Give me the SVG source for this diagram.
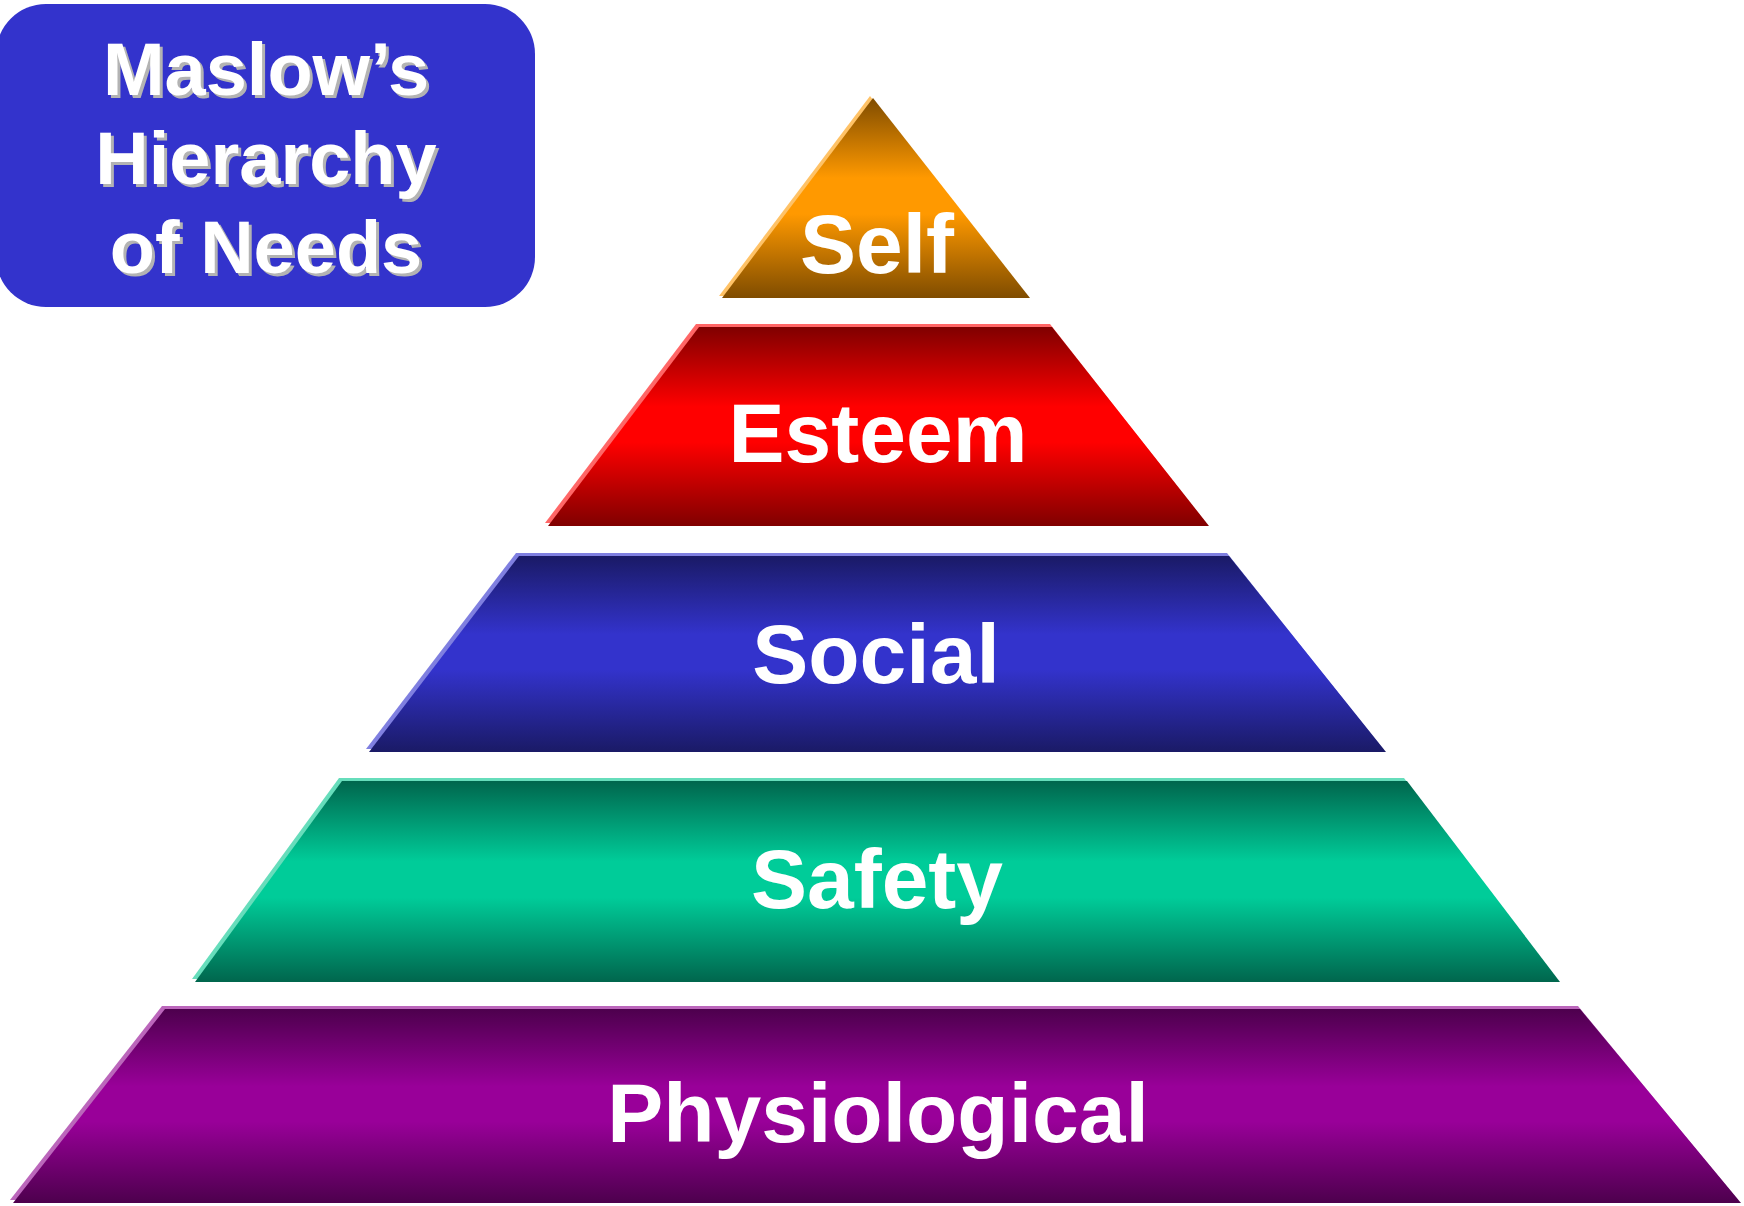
<svg xmlns="http://www.w3.org/2000/svg" width="1744" height="1206" viewBox="0 0 1744 1206">
<style>
.lbl{font-family:"Liberation Sans",Arial,sans-serif;font-weight:bold;font-size:84px;fill:#FFFFFF;text-anchor:middle}
.ttl{font-family:"Liberation Sans",Arial,sans-serif;font-weight:bold;font-size:74px;text-anchor:middle}
.ttl-s{fill:#B3B3B3}
.ttl-f{fill:#FFFFFF}
</style>
<defs>
<linearGradient id="gSelf" x1="0" y1="0" x2="0" y2="1">
<stop offset="0" stop-color="#7F4C00"/><stop offset="0.4" stop-color="#FF9900"/><stop offset="0.58" stop-color="#FF9900"/><stop offset="1" stop-color="#7F4C00"/>
</linearGradient>
<linearGradient id="gEsteem" x1="0" y1="0" x2="0" y2="1">
<stop offset="0" stop-color="#800000"/><stop offset="0.4" stop-color="#FF0000"/><stop offset="0.58" stop-color="#FF0000"/><stop offset="1" stop-color="#800000"/>
</linearGradient>
<linearGradient id="gSocial" x1="0" y1="0" x2="0" y2="1">
<stop offset="0" stop-color="#1A1A66"/><stop offset="0.4" stop-color="#3333CC"/><stop offset="0.58" stop-color="#3333CC"/><stop offset="1" stop-color="#1A1A66"/>
</linearGradient>
<linearGradient id="gSafety" x1="0" y1="0" x2="0" y2="1">
<stop offset="0" stop-color="#00664D"/><stop offset="0.4" stop-color="#00CC99"/><stop offset="0.58" stop-color="#00CC99"/><stop offset="1" stop-color="#00664D"/>
</linearGradient>
<linearGradient id="gPhys" x1="0" y1="0" x2="0" y2="1">
<stop offset="0" stop-color="#4D004D"/><stop offset="0.4" stop-color="#990099"/><stop offset="0.58" stop-color="#990099"/><stop offset="1" stop-color="#4D004D"/>
</linearGradient>
</defs>
<rect width="1744" height="1206" fill="#FFFFFF"/>

<g id="title">
<rect x="-4" y="4" width="539" height="303" rx="50" ry="50" fill="#3333CC"/>
<text class="ttl ttl-s" x="269" y="98">Maslow’s</text>
<text class="ttl ttl-s" x="269" y="187">Hierarchy</text>
<text class="ttl ttl-s" x="269" y="276">of Needs</text>
<text class="ttl ttl-f" x="266" y="95">Maslow’s</text>
<text class="ttl ttl-f" x="266" y="184">Hierarchy</text>
<text class="ttl ttl-f" x="266" y="273">of Needs</text>
</g>

<g id="self">
<polygon points="870,96 719,296 1027,296" fill="#FFC266"/>
<polygon points="873,98 722,298 1030,298" fill="url(#gSelf)"/>
<text class="lbl" x="877" y="273">Self</text>
</g>

<g id="esteem">
<polygon points="696,324 1050,324 1206,523 545,523" fill="#FF6666"/>
<polygon points="699,327 1052,327 1209,526 548,526" fill="url(#gEsteem)"/>
<text class="lbl" x="878" y="462">Esteem</text>
</g>

<g id="social">
<polygon points="516,553 1227,553 1383,749 366,749" fill="#7F7FE0"/>
<polygon points="519,556 1229,556 1386,752 369,752" fill="url(#gSocial)"/>
<text class="lbl" x="876" y="683">Social</text>
</g>

<g id="safety">
<polygon points="339,778 1404,778 1557,979 192,979" fill="#66DDBB"/>
<polygon points="342,781 1407,781 1560,982 195,982" fill="url(#gSafety)"/>
<text class="lbl" x="877" y="908">Safety</text>
</g>

<g id="physiological">
<polygon points="162,1006 1578,1006 1738,1200 10,1200" fill="#BB66BB"/>
<polygon points="165,1009 1580,1009 1741,1203 13,1203" fill="url(#gPhys)"/>
<text class="lbl" x="878" y="1142">Physiological</text>
</g>
</svg>
